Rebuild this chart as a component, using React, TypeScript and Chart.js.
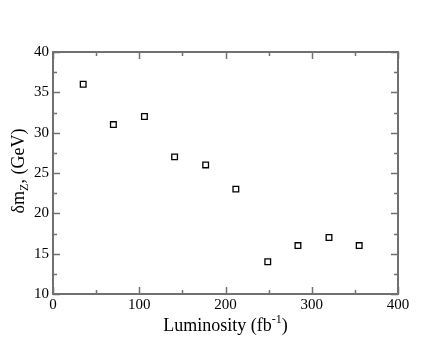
import React, { useEffect, useRef } from "react";
import { Chart, registerables } from "chart.js";

Chart.register(...registerables);

const luminosity = [35, 70, 106, 141, 177, 212, 249, 284, 320, 355];
const deltaMZ = [36, 31, 32, 27, 26, 23, 14, 16, 17, 16];
const xMajorTicks = [0, 100, 200, 300, 400];
const xMinorTicks = [50, 150, 250, 350];
const yMajorTicks = [10, 15, 20, 25, 30, 35, 40];
const yMinorTicks = [12.5, 17.5, 22.5, 27.5, 32.5, 37.5];

const AXIS_COLOR = "#707070";
const FONT = "'Liberation Serif', 'DejaVu Serif', serif";

const framePlugin = {
  id: "frameTicks",
  afterDraw(chart: any) {
    const { ctx, chartArea, scales } = chart;
    const { left, right, top, bottom } = chartArea;
    const xs = scales.x;
    const ys = scales.y;
    ctx.save();
    ctx.strokeStyle = AXIS_COLOR;
    ctx.lineWidth = 2;
    ctx.strokeRect(left, top, right - left, bottom - top);
    ctx.lineWidth = 1.5;
    const major = 7;
    const minor = 4;
    const drawX = (v: number, len: number) => {
      const px = Math.round(xs.getPixelForValue(v)) + 0.5;
      ctx.beginPath();
      ctx.moveTo(px, bottom);
      ctx.lineTo(px, bottom - len);
      ctx.moveTo(px, top);
      ctx.lineTo(px, top + len);
      ctx.stroke();
    };
    const drawY = (v: number, len: number) => {
      const py = Math.round(ys.getPixelForValue(v)) + 0.5;
      ctx.beginPath();
      ctx.moveTo(left, py);
      ctx.lineTo(left + len, py);
      ctx.moveTo(right, py);
      ctx.lineTo(right - len, py);
      ctx.stroke();
    };
    xMajorTicks.forEach((v) => drawX(v, major));
    xMinorTicks.forEach((v) => drawX(v, minor));
    yMajorTicks.forEach((v) => drawY(v, major));
    yMinorTicks.forEach((v) => drawY(v, minor));

    // Axis titles with sub/superscripts
    ctx.fillStyle = "#000";
    ctx.textBaseline = "alphabetic";
    // X title
    const xMain = "Luminosity (fb";
    const xSup = "-1";
    const xEnd = ")";
    const big = `18px ${FONT}`;
    const small = `12px ${FONT}`;
    ctx.font = big;
    const w1 = ctx.measureText(xMain).width;
    const w3 = ctx.measureText(xEnd).width;
    ctx.font = small;
    const w2 = ctx.measureText(xSup).width;
    const totalX = w1 + w2 + w3;
    const cx = (left + right) / 2;
    let sx = cx - totalX / 2;
    const by = 331;
    ctx.font = big;
    ctx.textAlign = "left";
    ctx.fillText(xMain, sx, by);
    sx += w1;
    ctx.font = small;
    ctx.fillText(xSup, sx, by - 8);
    sx += w2;
    ctx.font = big;
    ctx.fillText(xEnd, sx, by);

    // Y title (rotated)
    const yA = "δm";
    const ySub = "Z";
    const yB = ", (GeV)";
    ctx.font = big;
    const a = ctx.measureText(yA).width;
    const c = ctx.measureText(yB).width;
    ctx.font = small;
    const b = ctx.measureText(ySub).width;
    const totalY = a + b + c;
    ctx.translate(24, (top + bottom) / 2 - 2);
    ctx.rotate(-Math.PI / 2);
    let tx = -totalY / 2;
    ctx.font = big;
    ctx.fillText(yA, tx, 0);
    tx += a;
    ctx.font = small;
    ctx.fillText(ySub, tx, 4);
    tx += b;
    ctx.font = big;
    ctx.fillText(yB, tx, 0);
    ctx.restore();
  },
};

export default function App() {
  const canvasRef = useRef<HTMLCanvasElement>(null);

  useEffect(() => {
    if (!canvasRef.current) return;
    const chart = new Chart(canvasRef.current, {
      type: "scatter",
      data: {
        datasets: [
          {
            data: luminosity.map((x, i) => ({ x, y: deltaMZ[i] })),
            pointStyle: "rect",
            pointRadius: 4,
            borderColor: "#000",
            backgroundColor: "#fff",
            borderWidth: 1.3,
            showLine: false,
          },
        ],
      },
      options: {
        animation: false,
        responsive: false,
        devicePixelRatio: 1,
        layout: { padding: { top: 52, right: 50, left: 0, bottom: 0 } },
        plugins: {
          legend: { display: false },
          tooltip: { enabled: false },
        },
        scales: {
          x: {
            type: "linear",
            min: 0,
            max: 400,
            afterFit: (s: any) => {
              s.height = 52;
            },
            afterBuildTicks: (s: any) => {
              s.ticks = xMajorTicks.map((v) => ({ value: v }));
            },
            grid: { display: false, drawTicks: false },
            border: { display: false },
            ticks: {
              color: "#000",
              font: { family: FONT, size: 15 },
              padding: 2,
              maxRotation: 0,
            },
          },
          y: {
            type: "linear",
            min: 10,
            max: 40,
            afterFit: (s: any) => {
              s.width = 53;
            },
            afterBuildTicks: (s: any) => {
              s.ticks = yMajorTicks.map((v) => ({ value: v }));
            },
            grid: { display: false, drawTicks: false },
            border: { display: false },
            ticks: {
              color: "#000",
              font: { family: FONT, size: 15 },
              padding: 4,
            },
          },
        },
      },
      plugins: [framePlugin],
    });
    return () => chart.destroy();
  }, []);

  return (
    <div style={{ position: "fixed", left: 0, top: 0, width: 448, height: 346, background: "#fff" }}>
      <canvas ref={canvasRef} width={448} height={346} />
    </div>
  );
}
